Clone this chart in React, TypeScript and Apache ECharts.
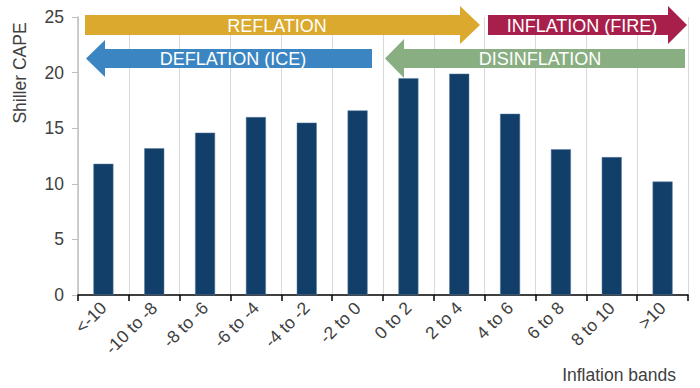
import React, { useEffect, useRef } from "react";
import * as echarts from "echarts";

const categories = ["<-10", "-10 to -8", "-8 to -6", "-6 to -4", "-4 to -2", "-2 to 0", "0 to 2", "2 to 4", "4 to 6", "6 to 8", "8 to 10", ">10"];
const capeValues = [11.8, 13.2, 14.6, 16.0, 15.5, 16.6, 19.5, 19.9, 16.3, 13.1, 12.4, 10.2];
const yTicks = [0, 5, 10, 15, 20, 25];
const regimeLabels = ["REFLATION", "INFLATION (FIRE)", "DEFLATION (ICE)", "DISINFLATION"];
const regimeColors = ["#DAA92D", "#A91F4B", "#3B86C2", "#89AE82"];

const FONT = "'Liberation Sans', Arial, sans-serif";

export default function App() {
  const ref = useRef<HTMLDivElement>(null);
  useEffect(() => {
    if (!ref.current) return;
    const chart = echarts.init(ref.current, null, { renderer: "svg" });
    const arrowText = (x: number, y: number, text: string) => ({
      type: "text",
      x,
      y,
      silent: true,
      style: { text, fill: "#ffffff", font: `18px ${FONT}`, align: "center", verticalAlign: "middle" },
      z: 110,
    });
    chart.setOption({
      animation: false,
      textStyle: { fontFamily: FONT },
      grid: { left: 78, right: 12, top: 17, bottom: 93, containLabel: false },
      xAxis: {
        type: "category",
        data: categories,
        boundaryGap: true,
        axisLine: { show: true, lineStyle: { color: "#000000", width: 1.5 } },
        axisTick: { show: true, length: 6, lineStyle: { color: "#000000", width: 1.5 } },
        axisLabel: { rotate: 45, fontSize: 17.5, color: "#404040", margin: 10, interval: 0, fontFamily: FONT },
        splitLine: { show: true, lineStyle: { color: "#d9d9d9", width: 1 } },
      },
      yAxis: {
        type: "value",
        min: yTicks[0],
        max: yTicks[yTicks.length - 1],
        interval: 5,
        axisLine: { show: true, lineStyle: { color: "#bfbfbf", width: 1.5 } },
        axisTick: { show: true, length: 6, lineStyle: { color: "#bfbfbf", width: 1 } },
        axisLabel: { fontSize: 17.5, color: "#404040", margin: 14, fontFamily: FONT },
        splitLine: { show: false },
      },
      series: [
        {
          type: "bar",
          data: capeValues,
          barWidth: 20,
          itemStyle: { color: "#123F6A", borderColor: "#5b7f9f", borderWidth: 0.5 },
        },
      ],
      graphic: [
        {
          type: "polygon",
          shape: { points: [[85, 15], [460, 15], [460, 6], [480, 25], [460, 44], [460, 35], [85, 35]] },
          style: { fill: regimeColors[0] },
          z: 100,
        },
        {
          type: "polygon",
          shape: { points: [[488, 15], [668, 15], [668, 6], [687, 25], [668, 44], [668, 35], [488, 35]] },
          style: { fill: regimeColors[1] },
          z: 100,
        },
        {
          type: "polygon",
          shape: { points: [[86, 58.5], [105, 40], [105, 49], [372, 49], [372, 68], [105, 68], [105, 77]] },
          style: { fill: regimeColors[2] },
          z: 100,
        },
        {
          type: "polygon",
          shape: { points: [[385, 58.5], [404, 39], [404, 49], [685, 49], [685, 68], [404, 68], [404, 78]] },
          style: { fill: regimeColors[3] },
          z: 100,
        },
        arrowText(277, 25.5, regimeLabels[0]),
        arrowText(582, 25.5, regimeLabels[1]),
        arrowText(233, 59, regimeLabels[2]),
        arrowText(540, 59, regimeLabels[3]),
        {
          type: "text",
          x: 20,
          y: 73,
          rotation: Math.PI / 2,
          style: { text: "Shiller CAPE", fill: "#404040", font: `17.5px ${FONT}`, align: "center", verticalAlign: "middle" },
        },
        {
          type: "text",
          x: 676,
          y: 375,
          style: { text: "Inflation bands", fill: "#404040", font: `17.5px ${FONT}`, align: "right", verticalAlign: "middle" },
        },
      ],
    });
    return () => chart.dispose();
  }, []);
  return <div ref={ref} style={{ width: 700, height: 388, position: "absolute", left: 0, top: 0 }} />;
}
